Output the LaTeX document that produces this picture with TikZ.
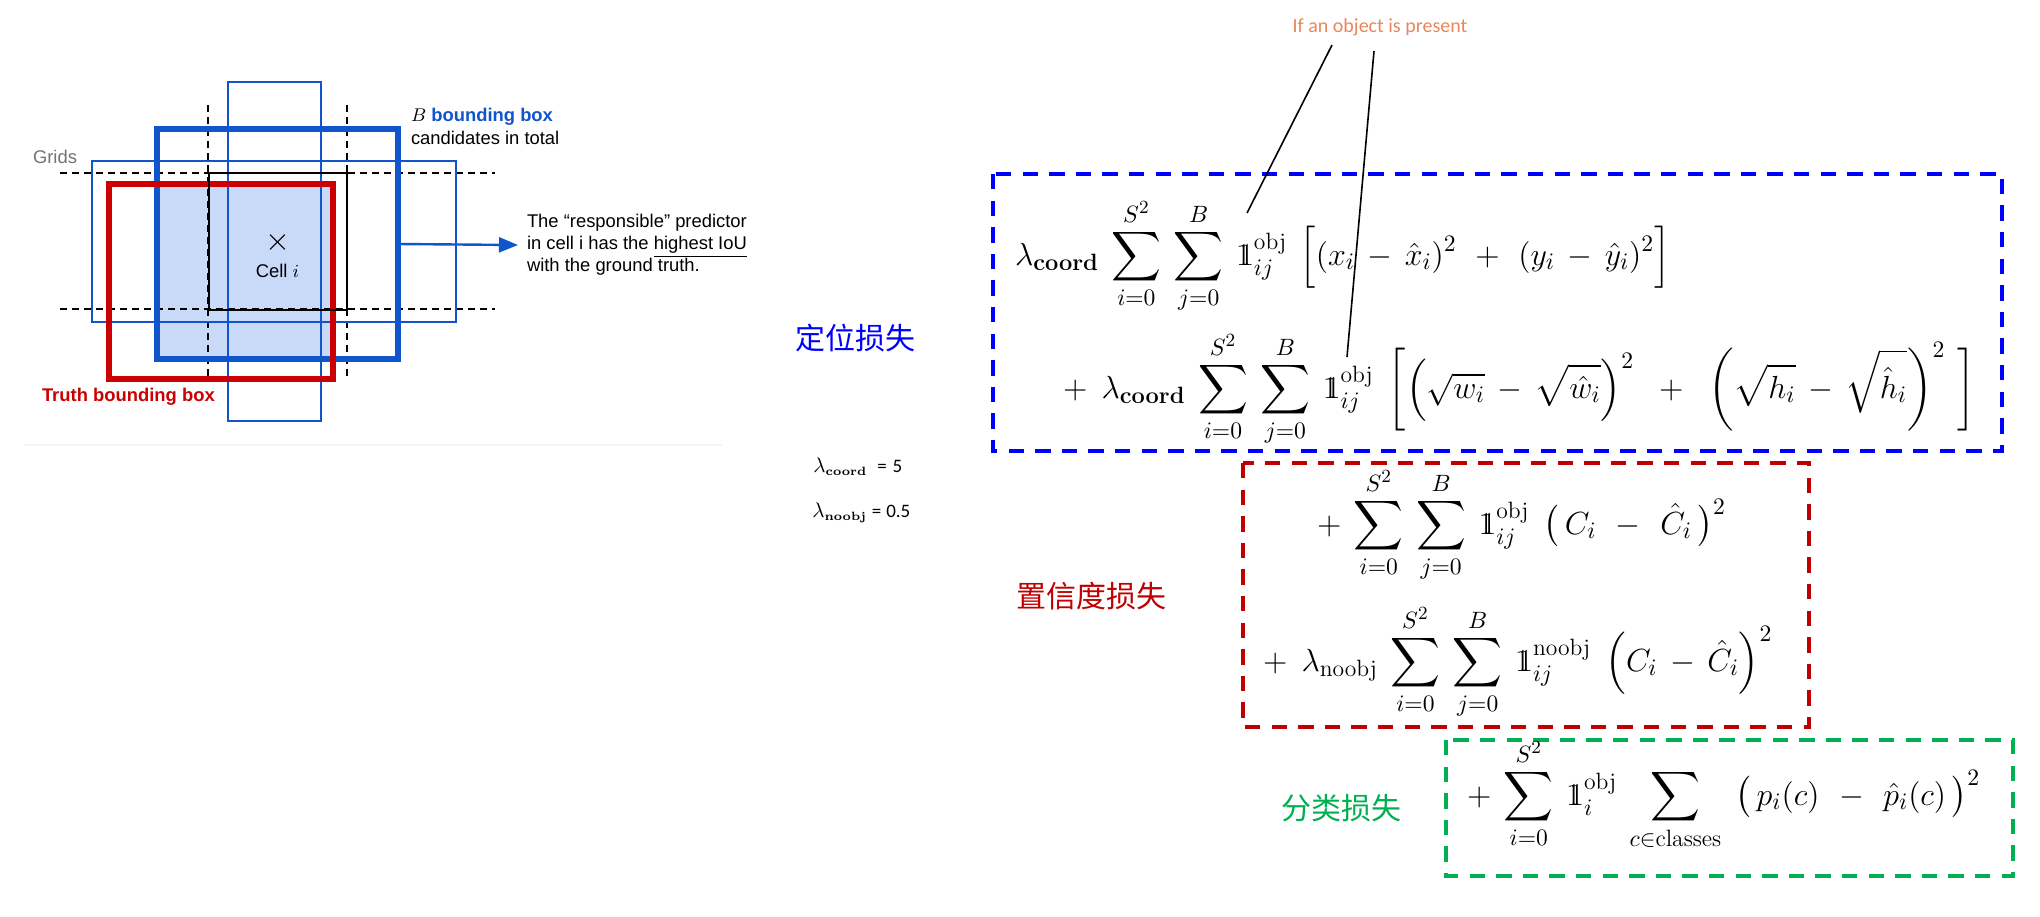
\RequirePackage{fix-cm}
\documentclass[tikz,border=0pt]{standalone}
\usepackage{amsmath}
\usepackage{fontspec}
\usetikzlibrary{arrows.meta}
\newfontfamily\slidefont{Liberation Sans}
\newfontfamily\cjkfont{Noto Sans CJK SC}
\newfontfamily\notefont{Carlito}
\DeclareMathSizes{16}{16}{11.8}{9.3}
\newcommand{\indic}{\mathrm{1}\mkern-6.5mu\mathrm{1}}
\newcommand{\widemath}{\thinmuskip=7mu\medmuskip=7mu\thickmuskip=8mu}
\newcommand{\weightsub}[1]{\text{\fontsize{6}{7}\selectfont\bfseries #1}}
\definecolor{candidate color}{HTML}{1155CC}
\definecolor{overlap color}{HTML}{C9DAF8}
\definecolor{truth color}{HTML}{CC0000}
\definecolor{loss blue}{HTML}{0000FF}
\definecolor{loss red}{HTML}{C00000}
\definecolor{loss green}{HTML}{00B050}
\definecolor{note color}{HTML}{E9875C}
\tikzset{
    x={0.5pt},
    y={-0.5pt},
    grid line/.style={
        draw=black,
        line width={0.6pt},
        dash pattern=on 3.5pt off 2.5pt,
    },
    candidate box/.style={
        draw=candidate color,
        line width={#1},
    },
    truth box/.style={
        draw=truth color,
        line width={2.6pt},
    },
    cell box/.style={
        draw=black,
        line width={1.3pt},
    },
    slide text/.style={
        font={\slidefont\fontsize{9.2}{11}\selectfont},
        inner sep=0pt,
        outer sep=0pt,
    },
    loss frame/.style={
        draw={#1},
        line width={2pt},
        dash pattern=on 7.7pt off 5.6pt,
    },
    loss label/.style={
        font={\cjkfont\fontsize{15}{18}\selectfont},
        inner sep=0pt,
    },
    formula/.style={
        font={\fontsize{16}{19}\selectfont\widemath},
        anchor=base west,
        inner sep=0pt,
        outer sep=0pt,
    },
    weight/.style={
        font={\fontsize{10.5}{13}\selectfont},
        anchor=west,
        inner sep=0pt,
    },
    leader/.style={
        draw=black,
        line width={0.8pt},
    },
}

\begin{document}
\begin{tikzpicture}
% background
\fill[white] (0,0) rectangle (2040,916);
\useasboundingbox (0,0) rectangle (2040,916);
% grid cell and boxes
\fill[overlap color] (157,184) rectangle (333,359);
\path[grid line] (60,173) -- (495,173) (60,309) -- (495,309);
\path[grid line] (208,105) -- (208,380) (347,105) -- (347,380);
\path[candidate box={1.2pt}] (228,82) rectangle (321,421);
\path[candidate box={1.2pt}] (92,161) rectangle (456,322);
\path[candidate box={3pt}] (157,129) rectangle (398,359);
\path[truth box] (109,184) rectangle (333,379);
\path[cell box] (209,173) rectangle (347,310);
\path[draw=black!4, line width={1pt}] (24,445) -- (722,445);
% labels of the grid
\node[slide text, text=black!55] (grids) at (55,157) {Grids};
\node[font={\fontsize{16}{16}\selectfont}, inner sep=0pt] (cellmark) at (277.5,242) {$\times$};
\node[slide text] (cellname) at (277.5,271) {Cell $i$};
\node[slide text, anchor=west] (candhead) at (411,117) {$B$ {\bfseries\color{candidate color}bounding box}};
\node[slide text, anchor=west] (candtail) at (411,138) {candidates in total};
\node[slide text, anchor=west, text=truth color, font={\slidefont\bfseries\fontsize{9.2}{11}\selectfont}] (truthname) at (42,397) {Truth bounding box};
\node[slide text, anchor=west, align=left] (resp) at (527,245) {The “responsible” predictor\\in cell i has the \underline{highest IoU}\\with the ground truth.};
\coordinate (bestbox) at (398,244);
\draw[draw=candidate color, line width={1.2pt}, -{Triangle[length=9.5pt,width=7.5pt]}] (bestbox) -- ([xshift=-4.5pt]resp.west);
% loss terms
\draw[loss frame=loss blue] (993,174) rectangle (2002,451);
\draw[loss frame=loss red] (1243,463) rectangle (1809,727);
\draw[loss frame=loss green] (1446,740) rectangle (2013,876);
\node[formula] (coordxy) at (1015,265) {$\displaystyle \lambda_{\textbf{coord}} \sum_{i=0}^{S^2}\sum_{j=0}^{B} \indic_{ij}^{\text{obj}} \,\Bigl[ (x_i - \hat{x}_i)^2 \mkern3.5mu+\mkern3.5mu (y_i - \hat{y}_i)^2 \Bigr]$};
\node[formula] (coordwh) at (1063,398) {$\displaystyle +\; \lambda_{\textbf{coord}} \sum_{i=0}^{S^2}\sum_{j=0}^{B} \indic_{ij}^{\text{obj}} \;\biggl[ \Bigl(\sqrt{w_i} - \sqrt{\hat{w}_i}\Bigr)^2 \,+\, \biggl(\sqrt{h_i} - \sqrt{\hat{h}_i}\biggr)^2 \,\biggr]$};
\node[formula] (confobj) at (1317,534) {$\displaystyle + \sum_{i=0}^{S^2}\sum_{j=0}^{B} \indic_{ij}^{\text{obj}} \;\bigl(\mkern3mu C_i \mkern4mu-\mkern4mu \hat{C}_i\mkern3mu\bigr)^2$};
\node[formula] (confnoobj) at (1263,671) {$\displaystyle +\; \lambda_{\text{noobj}} \sum_{i=0}^{S^2}\sum_{j=0}^{B} \indic_{ij}^{\text{noobj}} \;\Bigl(C_i - \hat{C}_i\Bigr)^2$};
\node[formula] (classes) at (1467,805) {$\displaystyle + \sum_{i=0}^{S^2} \indic_{i}^{\text{obj}} \sum_{c\in\text{classes}} \;\bigl(\mkern3mu p_i(c) \mkern4mu-\mkern4mu \hat{p}_i(c)\mkern3mu\bigr)^2$};
\node[loss label, text=loss blue] (loclabel) at (855,338) {定位损失};
\node[loss label, text=loss red] (conflabel) at (1091,596) {置信度损失};
\node[loss label, text=loss green] (clslabel) at (1341,808) {分类损失};
\node[weight] (wcoord) at (813,467) {$\lambda_{\weightsub{coord}}$\hspace{5pt}{\notefont\fontsize{9.5}{12}\selectfont =\hspace{3pt}5}};
\node[weight] (wnoobj) at (812,513) {$\lambda_{\weightsub{noobj}}$\hspace{2.5pt}{\notefont\fontsize{9.5}{12}\selectfont =\hspace{2.5pt}0.5}};
% indicator note
\node[font={\notefont\fontsize{10}{12}\selectfont}, text=note color, inner sep=0pt] (present) at (1380,27) {If an object is present};
\coordinate (ind1) at (1247,213);
\coordinate (ind2) at (1347,357);
\draw[leader] ([xshift=-24pt,yshift=-4.5pt]present.south) -- (ind1);
\draw[leader] ([xshift=-3pt,yshift=-7.5pt]present.south) -- (ind2);
\end{tikzpicture}
\end{document}
